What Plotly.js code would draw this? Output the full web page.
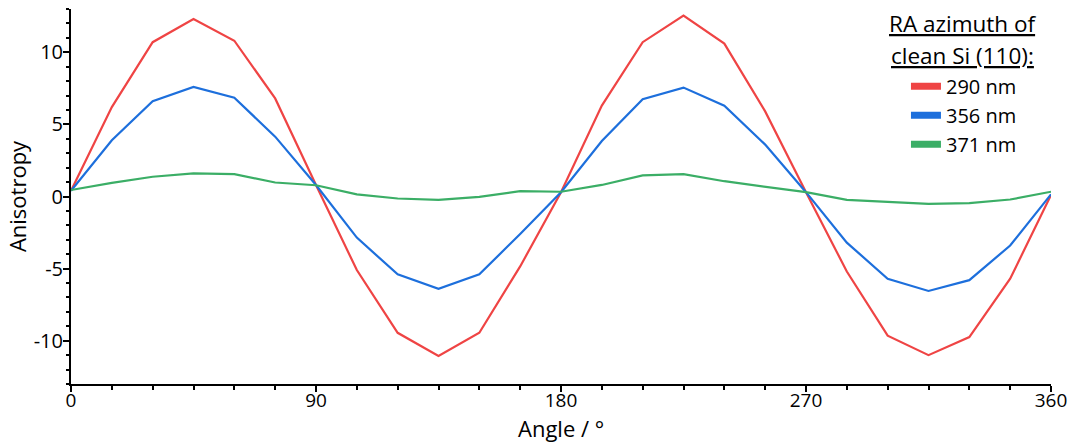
<!DOCTYPE html>
<html>
<head>
<meta charset="utf-8">
<script src="https://cdn.plot.ly/plotly-3.0.1.min.js"></script>
<style>html,body{margin:0;padding:0;background:#fff;}#chart{width:1079px;height:443px;}</style>
</head>
<body>
<div id="chart"></div>
<script>
const angles = [0,15,30,45,60,75,90,105,120,135,150,165,180,195,210,225,240,255,270,285,300,315,330,345,360];
const ra290 = [0.4,6.2,10.7,12.3,10.8,6.8,0.8,-5.1,-9.45,-11.05,-9.45,-4.85,0.3,6.3,10.7,12.55,10.6,5.9,0.3,-5.2,-9.65,-11.0,-9.75,-5.7,0.1];
const ra356 = [0.4,3.9,6.6,7.6,6.85,4.15,0.8,-2.85,-5.4,-6.4,-5.4,-2.6,0.3,3.85,6.75,7.55,6.3,3.6,0.3,-3.2,-5.7,-6.55,-5.8,-3.4,0.15];
const ra371 = [0.45,0.95,1.37,1.6,1.55,0.97,0.78,0.15,-0.14,-0.23,-0.02,0.37,0.33,0.8,1.46,1.55,1.06,0.67,0.3,-0.23,-0.39,-0.51,-0.46,-0.21,0.33];
const seriesNames = ['290 nm','356 nm','371 nm'];
const seriesColors = ['#EF4444','#1D6FDC','#3BAE66'];
const legendTitleLines = ['RA azimuth of','clean Si (110):'];
const xTitle = 'Angle / °';
const yTitle = 'Anisotropy';
const xTickVals = [0,90,180,270,360];
const xTickText = ['0','90','180','270','360'];
const yTickVals = [-10,-5,0,5,10];
const yTickText = ['-10','-5','0','5','10'];

const seriesData = [ra290, ra356, ra371];
const traces = [];
seriesData.forEach((ys,i)=>{
  traces.push({x:angles, y:ys, type:'scatter', mode:'lines', name:seriesNames[i],
    line:{color:seriesColors[i], width:2.2}, showlegend:false, hoverinfo:'x+y'});
});
seriesData.forEach((ys,i)=>{
  traces.push({x:[null], y:[null], type:'scatter', mode:'lines', name:seriesNames[i],
    legendgroup:'g'+i, line:{color:seriesColors[i], width:7}, showlegend:true});
});

const font = '"Open Sans", sans-serif';
const titleY = [0.962, 0.877];
const annotations = legendTitleLines.map((t,i)=>({
  xref:'paper', yref:'paper', x:0.910, y:titleY[i], xanchor:'center', yanchor:'middle',
  text:'<span style="text-decoration:underline">'+t+'</span>', showarrow:false,
  font:{family:font, size:22.5, color:'#000'}
}));
annotations.push({
  xref:'paper', yref:'paper', x:0.5, y:-0.118, xanchor:'center', yanchor:'middle',
  text:xTitle, showarrow:false, font:{family:font, size:22, color:'#000'}
});
const layout = {
  width:1079, height:443,
  margin:{l:71, r:28, t:9, b:59},
  paper_bgcolor:'#fff', plot_bgcolor:'#fff',
  font:{family:font, size:20, color:'#000'},
  showlegend:true,
  annotations:annotations,
  legend:{
    x:0.852, y:0.846, xanchor:'left', yanchor:'top',
    bgcolor:'rgba(0,0,0,0)', borderwidth:0,
    font:{family:font, size:20, color:'#000'},
    itemwidth:30, tracegroupgap:0
  },
  xaxis:{
    range:[0,360], showgrid:false, zeroline:false,
    showline:true, linecolor:'#000', linewidth:2,
    ticks:'outside', ticklen:6, tickwidth:2, tickcolor:'#000',
    tickvals:xTickVals, ticktext:xTickText, ticklabelstandoff:-8,
    minor:{dtick:15, ticks:'outside', ticklen:4, tickwidth:2, tickcolor:'#000', showgrid:false},
    tickfont:{family:font, size:19}
  },
  yaxis:{
    range:[-13,13], showgrid:false, zeroline:false,
    showline:true, linecolor:'#000', linewidth:2,
    ticks:'outside', ticklen:6, tickwidth:2, tickcolor:'#000',
    tickvals:yTickVals, ticktext:yTickText, ticklabelstandoff:-4,
    minor:{dtick:1, ticks:'outside', ticklen:3, tickwidth:2, tickcolor:'#000', showgrid:false},
    title:{text:yTitle, font:{family:font, size:22}, standoff:1},
    tickfont:{family:font, size:20}
  }
};
Plotly.newPlot('chart', traces, layout, {displayModeBar:false, staticPlot:true});
</script>
</body>
</html>
